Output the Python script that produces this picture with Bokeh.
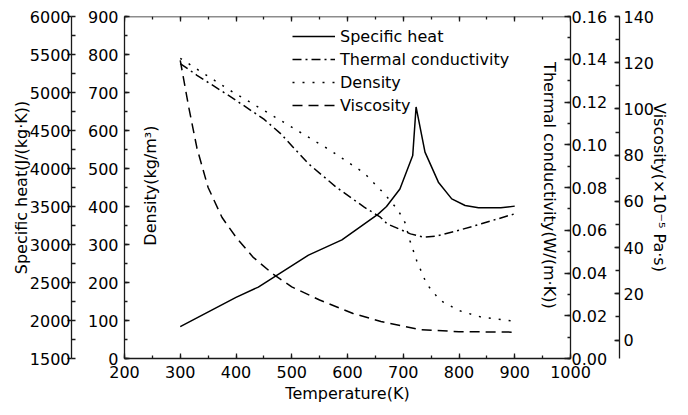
import math
from bokeh.plotting import figure
from bokeh.models import (LinearAxis, Range1d, SingleIntervalTicker, NumeralTickFormatter,
                          Label, Legend, LegendItem, CustomJSTickFormatter)
from bokeh.embed import file_html
from bokeh.resources import INLINE

# ---------------- data ----------------
T_cp = [300, 400, 440, 530, 590, 655, 670, 694, 717, 723, 739, 763, 787, 811, 835, 875, 900]
cp = [1920, 2305, 2440, 2860, 3060, 3400, 3500, 3730, 4170, 4810, 4215, 3820, 3600, 3513, 3483, 3483, 3505]

T_k = [300, 330, 390, 450, 480, 530, 580, 630, 659, 671, 713, 737, 760, 800, 840, 900]
k = [0.138, 0.1325, 0.1225, 0.112, 0.1052, 0.0911, 0.0801, 0.0708, 0.0661, 0.0630, 0.0583, 0.0567, 0.0573, 0.0600, 0.0630, 0.0677]

T_rho = [300, 340, 390, 450, 510, 570, 630, 665, 690, 703, 712, 724, 742, 766, 800, 840, 900]
rho = [790, 752, 705, 653, 600, 547, 488, 435, 392, 358, 310, 258, 196, 153, 126, 109, 98]

T_mu = [300, 315, 330, 350, 375, 400, 430, 465, 500, 550, 610, 660, 700, 730, 800, 900]
mu = [121, 101, 83, 66, 53, 44.5, 36, 28.8, 23, 17.3, 11.5, 8, 6, 4.5, 3.6, 3.4]

series_names = ["Specific heat", "Thermal conductivity", "Density", "Viscosity"]

# ---------------- figure ----------------
FONT = "DejaVu Sans"
p = figure(width=688, height=413, output_backend="svg", toolbar_location=None,
           x_axis_type=None, y_axis_type=None,
           x_range=Range1d(200, 1000), y_range=Range1d(0, 900),
           frame_width=446, frame_height=342,
           min_border_left=124, min_border_right=118, min_border_top=16, min_border_bottom=50)
p.extra_y_ranges = {"cp": Range1d(1500, 6000), "k": Range1d(0, 0.16), "mu": Range1d(-8, 140)}
p.outline_line_color = None
p.background_fill_color = "white"
p.border_fill_color = "white"

AXC = "#1a1a1a"


def style(ax):
    ax.major_label_text_font = FONT
    ax.major_label_text_font_size = "16px"
    ax.major_label_text_color = "black"
    ax.axis_label_text_font = FONT
    ax.axis_label_text_font_size = "16px"
    ax.axis_label_text_font_style = "normal"
    ax.axis_label_text_color = "black"
    ax.axis_line_color = AXC
    ax.major_tick_line_color = AXC
    ax.minor_tick_line_color = AXC
    ax.axis_line_width = 1.3
    ax.major_tick_line_width = 1.3
    ax.minor_tick_line_width = 1.3


def spacer_label(ax, size):
    # invisible axis title, only used to leave room before the next axis
    ax.axis_label = " "
    ax.axis_label_text_font_size = size
    ax.axis_label_standoff = 1


# bottom x axis
xax = LinearAxis(ticker=SingleIntervalTicker(interval=100, num_minor_ticks=2),
                 axis_label="Temperature(K)")
style(xax)
xax.major_tick_in, xax.major_tick_out = 5, 0
xax.minor_tick_in, xax.minor_tick_out = 3, 0
xax.major_label_standoff = 7
xax.axis_label_standoff = 3
p.add_layout(xax, "below")

# top frame line with inward ticks
tax = LinearAxis(ticker=SingleIntervalTicker(interval=100, num_minor_ticks=2),
                 fixed_location=900, formatter=CustomJSTickFormatter(code="return ''"))
style(tax)
tax.major_label_text_color = None
tax.major_tick_in, tax.major_tick_out = 5, 0
tax.minor_tick_in, tax.minor_tick_out = 3, 0
p.add_layout(tax, "above")

# density axis (inner left)
dax = LinearAxis(ticker=SingleIntervalTicker(interval=100, num_minor_ticks=2))
style(dax)
dax.major_tick_in, dax.major_tick_out = 5, 0
dax.minor_tick_in, dax.minor_tick_out = 3, 0
dax.major_label_standoff = 6
spacer_label(dax, "8px")
p.add_layout(dax, "left")

# specific heat axis (outer left)
cax = LinearAxis(y_range_name="cp", ticker=SingleIntervalTicker(interval=500, num_minor_ticks=2),
                 axis_label="Specific heat(J/(kg·K))")
style(cax)
cax.major_tick_in, cax.major_tick_out = 0, 4
cax.minor_tick_in, cax.minor_tick_out = 4, 0
cax.major_label_standoff = -3
cax.axis_label_standoff = -4
p.add_layout(cax, "left")

# thermal conductivity axis (inner right)
kax = LinearAxis(y_range_name="k", ticker=SingleIntervalTicker(interval=0.02, num_minor_ticks=2),
                 formatter=NumeralTickFormatter(format="0.00"))
style(kax)
kax.major_tick_in, kax.major_tick_out = 6, 0
kax.minor_tick_in, kax.minor_tick_out = 3, 0
kax.major_label_standoff = 1
spacer_label(kax, "4px")
p.add_layout(kax, "right")

# viscosity axis (outer right)
vax = LinearAxis(y_range_name="mu", ticker=SingleIntervalTicker(interval=20, num_minor_ticks=2),
                 axis_label="Viscosity(×10⁻⁵ Pa·s)")
style(vax)
vax.major_tick_in, vax.major_tick_out = 5, 0
vax.minor_tick_in, vax.minor_tick_out = 4, 0
vax.major_label_standoff = 4
vax.axis_label_standoff = -7
p.add_layout(vax, "right")

# ---------------- lines ----------------
LW = 1.5
r_cp = p.line(T_cp, cp, y_range_name="cp", line_color="black", line_width=LW)
r_k = p.line(T_k, k, y_range_name="k", line_color="black", line_width=LW, line_dash="9 4 2 4")
r_rho = p.line(T_rho, rho, line_color="black", line_width=LW, line_dash="2 8")
r_mu = p.line(T_mu, mu, y_range_name="mu", line_color="black", line_width=LW, line_dash="10 6")

legend = Legend(items=[LegendItem(label=n, renderers=[r]) for n, r in
                       zip(series_names, [r_cp, r_k, r_rho, r_mu])],
                location=(168, 243))
legend.padding = 0
legend.margin = 0
legend.spacing = 3
legend.border_line_color = None
legend.background_fill_alpha = 0
legend.glyph_width = 43
legend.glyph_height = 20
legend.label_height = 20
legend.label_standoff = 5
legend.label_text_font = FONT
legend.label_text_font_size = "16px"
legend.label_text_color = "black"
p.add_layout(legend)

# inner axis titles
p.add_layout(Label(x=246, y=455, text="Density(kg/m³)", angle=math.pi / 2,
                   text_align="center", text_baseline="middle",
                   text_font=FONT, text_font_size="16px", text_color="black"))
p.add_layout(Label(x=962, y=0.081, y_range_name="k", text="Thermal conductivity(W/(m·K))",
                   angle=-math.pi / 2, text_align="center", text_baseline="middle",
                   text_font=FONT, text_font_size="16px", text_color="black"))

open("out.html", "w").write(file_html(p, INLINE))
